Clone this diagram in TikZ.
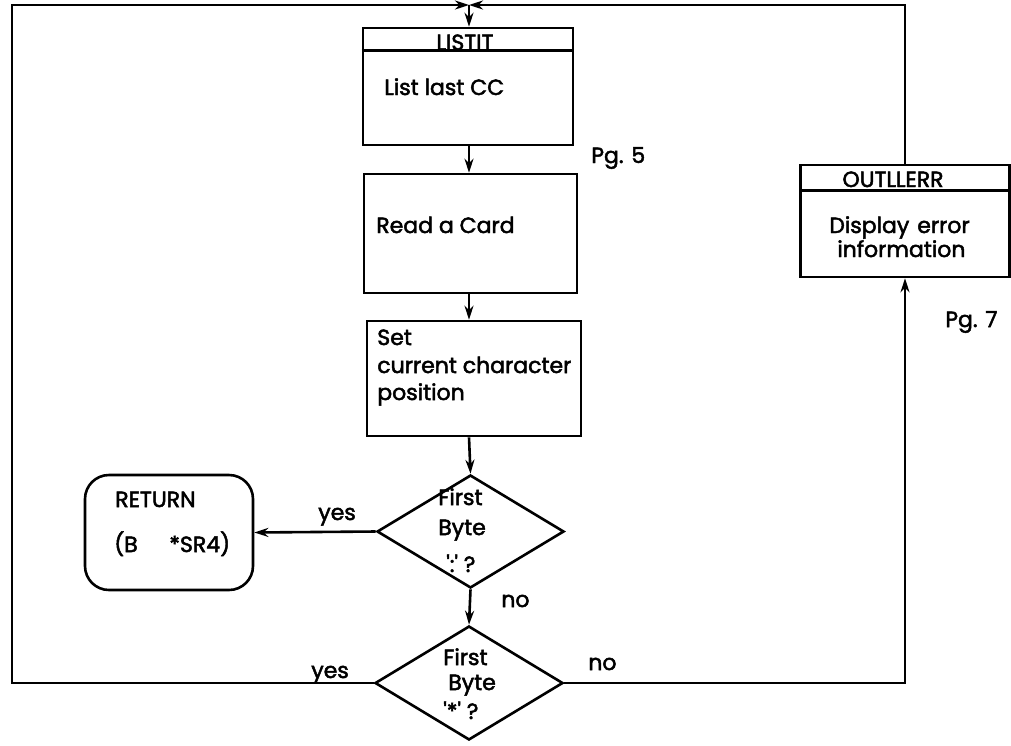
\documentclass[tikz,border=0pt]{standalone}
\usepackage{fontspec}
\setmainfont{Poppins}[FakeBold=2.2]
\usetikzlibrary{shapes.geometric,arrows.meta}
\begin{document}
\begin{tikzpicture}[x=1pt,y=-1pt,line width=2.6pt,
  >={Stealth[length=14pt,width=9pt]},
  every node/.style={font=\fontsize{22}{27}\selectfont},
  procbox/.style={draw,rectangle,inner sep=0pt},
  decbox/.style={draw,diamond,inner sep=0pt},
  termbox/.style={draw,rectangle,rounded corners=24pt,inner sep=0pt},
  lbl/.style={inner sep=0pt,anchor=base west},
  hdr/.style={inner sep=0pt,anchor=base,font=\fontsize{22}{27}\selectfont}]
\useasboundingbox (0,0) rectangle (1011,745);
\fill[white] (0,0) rectangle (1011,745);

% boxes
\node[procbox,minimum width=210pt,minimum height=117pt] (listit) at (468,86.5) {};
\draw ([yshift=-24pt]listit.north west) -- ([yshift=-24pt]listit.north east);
\node[hdr] (listitT) at (465,50) {LISTIT};
\node[lbl] (listitB) at (383,95) {List last CC};
\node[lbl] (pg5) at (590,163) {Pg. 5};

\node[procbox,minimum width=213pt,minimum height=119pt] (read) at (470.5,233.5) {};
\node[lbl] (readT) at (375,233) {Read a Card};

\node[procbox,minimum width=214pt,minimum height=115pt] (setb) at (474,378.5) {};
\node[lbl] (setT1) at (376,345) {Set};
\node[lbl] (setT2) at (376,373) {current character};
\node[lbl] (setT3) at (376,400) {position};

\node[decbox,minimum width=187pt,minimum height=113pt] (d1) at (470.5,531.5) {};
\node[lbl] (d1a) at (437,505) {First};
\node[lbl] (d1b) at (437,535) {Byte};
\node[lbl] (d1c) at (445,572) {\textquotesingle:\textquotesingle\ ?};

\node[decbox,minimum width=188pt,minimum height=114pt] (d2) at (469,683) {};
\node[lbl] (d2a) at (442,665) {First};
\node[lbl] (d2b) at (447,690) {Byte};
\node[lbl] (d2c) at (442,719) {\textquotesingle*\textquotesingle\ ?};

\node[termbox,minimum width=168pt,minimum height=115pt] (ret) at (169,532.5) {};
\node[lbl] (retA) at (114,507) {RETURN};
\node[lbl] (retB) at (113,552) {(B};
\node[lbl] (retC) at (168,552) {*SR4)};

\node[procbox,minimum width=209pt,minimum height=112pt] (outl) at (905,221) {};
\draw ([yshift=-27pt]outl.north west) -- ([yshift=-27pt]outl.north east);
\node[hdr] (outlT) at (893,187) {OUTLLERR};
\node[lbl] (outlB1) at (828,233) {Display\hspace{8pt}error};
\node[lbl] (outlB2) at (836,257) {information};
\node[lbl] (pg7) at (944,327) {Pg. 7};

% connectors
\coordinate (tj) at (469,5);
\coordinate (tl) at (12,5);
\draw[->] (tj) -- (tj |- listit.north);
\draw[->] (listit.south -| tj) -- (read.north -| tj);
\draw[->] (read.south -| tj) -- (setb.north -| tj);
\draw[->] (setb.south -| tj) -- (d1.north);
\draw[->] (d1.south) -- (d2.north);
\draw[->] (d1.west) -- (ret.east);
\draw[->] (d2.west) -| (tl) -- (tj);
\draw[->] (d2.east) -| (outl.south);
\draw[->] (outl.north) |- (tj);

% labels
\node[lbl] (yes1) at (317,520) {yes};
\node[lbl] (no1) at (500,607) {no};
\node[lbl] (yes2) at (310,678) {yes};
\node[lbl] (no2) at (587,670) {no};
\end{tikzpicture}
\end{document}
